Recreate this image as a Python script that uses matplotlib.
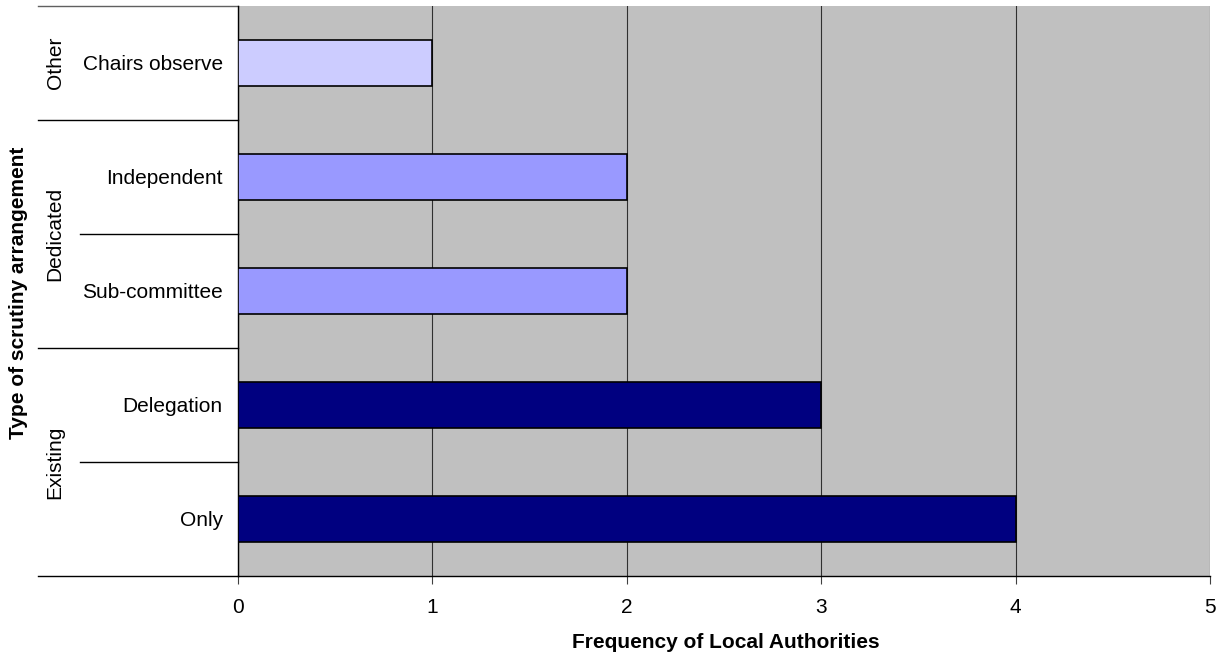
import matplotlib.pyplot as plt

plt.rcParams['font.family'] = ['Liberation Sans', 'DejaVu Sans']

# bottom to top
categories = ['Only', 'Delegation', 'Sub-committee', 'Independent', 'Chairs observe']
frequency = [4, 3, 2, 2, 1]
bar_colours = ['#000080', '#000080', '#9999FF', '#9999FF', '#CCCCFF']

groups = ['Existing', 'Dedicated', 'Other']
group_spans = [(0, 1), (2, 3), (4, 4)]

W, H = 1219, 654
fig = plt.figure(figsize=(W / 100, H / 100), dpi=100)
ax = fig.add_axes([238 / W, (H - 576) / H, (1210 - 238) / W, (576 - 6) / H])
ax.set_facecolor('#C0C0C0')

ypos = list(range(len(categories)))
ax.barh(ypos, frequency, height=0.4, color=bar_colours, edgecolor='black',
        linewidth=1.2, zorder=3)

ax.set_xlim(0, 5)
ax.set_ylim(-0.5, len(categories) - 0.5)
ax.set_xticks(range(6))
ax.xaxis.grid(True, color='#303030', linewidth=0.8, zorder=1)
ax.tick_params(axis='x', length=6, width=0.8, color='#404040', pad=10, labelsize=15)
ax.set_yticks(ypos)
ax.set_yticklabels(categories, fontsize=15)
ax.tick_params(axis='y', length=0, pad=11)

for side in ['top', 'right']:
    ax.spines[side].set_visible(False)
ax.spines['left'].set_color('black')
ax.spines['bottom'].set_color('black')
ax.spines['left'].set_linewidth(1)
ax.spines['bottom'].set_linewidth(1)

# separator lines in the label area
ytr = ax.get_yaxis_transform()
x_outer = (38 - 238) / (1210 - 238)
x_inner = (80 - 238) / (1210 - 238)
for lo, hi in group_spans:
    ax.plot([x_outer, 0], [lo - 0.5, lo - 0.5], transform=ytr, color='black',
            linewidth=1, clip_on=False)
    for k in range(lo, hi):
        ax.plot([x_inner, 0], [k + 0.5, k + 0.5], transform=ytr, color='black',
                linewidth=1, clip_on=False)
ax.plot([x_outer, 0], [len(categories) - 0.5] * 2, transform=ytr, color='#606060',
        linewidth=1, clip_on=False)

x_group = (55 - 238) / (1210 - 238)
for name, (lo, hi) in zip(groups, group_spans):
    ax.text(x_group, (lo + hi) / 2, name, transform=ytr, rotation=90,
            ha='center', va='center', fontsize=15)

fig.text(19 / W, (H - 293) / H, 'Type of scrutiny arrangement', rotation=90,
         ha='center', va='center', fontsize=15, fontweight='bold')
fig.text(726 / W, (H - 642) / H, 'Frequency of Local Authorities',
         ha='center', va='center', fontsize=15, fontweight='bold')

fig.savefig('out.png', dpi=100)
